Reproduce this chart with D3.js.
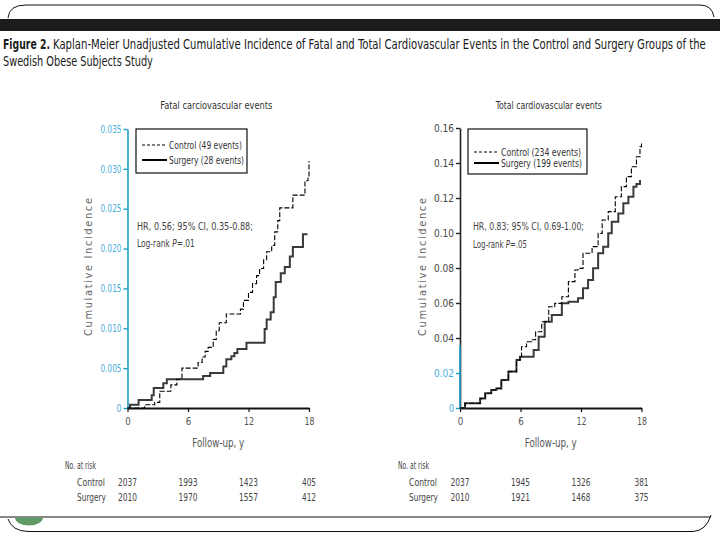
<!DOCTYPE html>
<html><head><meta charset="utf-8">
<script src="https://cdn.jsdelivr.net/npm/d3@7/dist/d3.min.js"></script>
<style>
body{margin:0;background:#fff;}
svg{display:block;}
text{font-family:"Liberation Sans Narrow","DejaVu Sans Condensed","Arial Narrow",sans-serif;}
</style></head>
<body>
<script>
// ---------- data ----------
const xTicks = [0, 6, 12, 18];
const fatalYTicks = [0, 0.005, 0.010, 0.015, 0.020, 0.025, 0.030, 0.035];
const totalYTicks = [0, 0.02, 0.04, 0.06, 0.08, 0.10, 0.12, 0.14, 0.16];
const fatalControl = [[0,0],[1.7,0.0004],[2.7,0.0007],[3.2,0.0021],[4.3,0.0029],[4.9,0.0036],[5.4,0.005],[7.0,0.0057],[7.4,0.0064],[7.7,0.0071],[8.0,0.0076],[8.5,0.0086],[8.8,0.0097],[9.1,0.0107],[9.8,0.0118],[11.2,0.0124],[11.5,0.0135],[12.0,0.0145],[12.4,0.0156],[12.8,0.0166],[13.1,0.0175],[13.5,0.0186],[13.8,0.0196],[14.3,0.0204],[14.6,0.0221],[14.9,0.0235],[15.1,0.0251],[16.4,0.0267],[17.6,0.0285],[17.9,0.029],[18.0,0.031]];
const fatalSurgery = [[0,0],[0.25,0.0004],[1.1,0.001],[2.4,0.0016],[2.6,0.0025],[3.55,0.0031],[3.9,0.0036],[7.5,0.004],[8.2,0.0044],[9.5,0.0052],[9.8,0.0061],[10.3,0.0065],[10.6,0.0069],[10.9,0.0074],[11.8,0.0082],[13.6,0.0099],[13.8,0.0111],[14.2,0.012],[14.5,0.0139],[14.7,0.0158],[15.2,0.0169],[15.6,0.0177],[16.1,0.019],[16.4,0.0202],[17.4,0.0218],[17.85,0.0218]];
const totalControl = [[0,0],[0.5,0.0027],[2.0,0.0055],[2.5,0.0084],[3.1,0.0103],[3.6,0.0112],[4.1,0.016],[4.8,0.0208],[5.6,0.0274],[5.95,0.0293],[6.1,0.035],[6.6,0.0379],[7.1,0.039],[7.5,0.0436],[8.1,0.0493],[8.8,0.0579],[9.4,0.0598],[10.1,0.0636],[10.75,0.0722],[11.4,0.0789],[11.7,0.0798],[12.2,0.0884],[13.1,0.0922],[13.7,0.0998],[14.1,0.1074],[14.7,0.1122],[15.4,0.1207],[16.0,0.1265],[16.5,0.1322],[17.0,0.1379],[17.5,0.1436],[17.85,0.1493],[18.0,0.1522]];
const totalSurgery = [[0,0],[0.5,0.0027],[2.0,0.0055],[2.5,0.0084],[3.1,0.0103],[3.6,0.0112],[4.1,0.016],[4.8,0.0208],[5.6,0.0274],[5.95,0.0293],[6.6,0.0293],[7.3,0.0331],[7.8,0.0407],[8.4,0.0493],[9.1,0.0531],[10.1,0.0598],[10.75,0.0607],[11.7,0.0627],[12.2,0.0684],[12.7,0.0731],[13.2,0.0798],[13.7,0.0884],[14.2,0.0922],[14.7,0.0998],[15.05,0.1065],[15.7,0.1112],[16.2,0.117],[16.7,0.1207],[17.2,0.1265],[17.5,0.128],[17.85,0.1303]];
const fatalAtRiskControl = [2037, 1993, 1423, 405];
const fatalAtRiskSurgery = [2010, 1970, 1557, 412];
const totalAtRiskControl = [2037, 1945, 1326, 381];
const totalAtRiskSurgery = [2010, 1921, 1468, 375];
const titleLine1Bold = "Figure 2.";
const titleLine1 = "Kaplan-Meier Unadjusted Cumulative Incidence of Fatal and Total Cardiovascular Events in the Control and Surgery Groups of the";
const titleLine2 = "Swedish Obese Subjects Study";

const W = 720, H = 540;
const svg = d3.select("body").append("svg").attr("width", W).attr("height", H);

// helper: single-run text squeezed to a given width
function txt(g, s, x, y, size, fill, width, anchor) {
  const t = g.append("text").attr("x", x).attr("y", y).attr("font-size", size).attr("fill", fill)
    .attr("text-anchor", anchor || "start").text(s);
  if (width) t.attr("textLength", width).attr("lengthAdjust", "spacingAndGlyphs");
  return t;
}
// helper: text horizontally scaled (via transform) to a target width
function scaled(g, s, x, y, size, fill, width, bold) {
  const gg = g.append("g").attr("transform", `translate(${x},${y})`);
  const t = gg.append("text").attr("x", 0).attr("y", 0).attr("font-size", size).attr("fill", fill).text(s);
  if (bold) t.attr("font-weight", "bold");
  const w = t.node().getComputedTextLength();
  t.attr("transform", `scale(${width / w},1)`);
  return t;
}

// ---------- frame decorations ----------
svg.append("path").attr("d","M8,18 Q9,5 26,5 L700,5 Q712,5 714,17").attr("fill","none").attr("stroke","#111").attr("stroke-width",1);
svg.append("rect").attr("x",0).attr("y",19).attr("width",W).attr("height",12).attr("fill","#1c1c1c");
scaled(svg, titleLine1Bold, 3, 49, 14, "#1a1a1a", 47, true);
scaled(svg, titleLine1, 53, 49, 14, "#1a1a1a", 653);
scaled(svg, titleLine2, 3, 66, 14, "#1a1a1a", 150);

svg.append("line").attr("x1",0).attr("x2",711).attr("y1",517).attr("y2",517).attr("stroke","#111");
svg.append("path").attr("d","M8,519 Q12,531 28,531.5 L693,531.5 Q706,531 711,515").attr("fill","none").attr("stroke","#111");
svg.append("path").attr("d","M15,517.5 A14,8 0 0 0 43,517.5 Z").attr("fill","#5f9a66");

// ---------- panels ----------
const textGray = "#555";
const blue = "#1b9cc6", blueLab = "#49aedb";
const panels = [
  {title:"Fatal carciovascular events", titleW:112, x0:127.5, x1:309, yTop:129, ymax:0.035, yTicks:fatalYTicks, fmt:v=>v===0?"0":d3.format(".3f")(v),
   control:fatalControl, surgery:fatalSurgery, legC:"Control (49 events)", legS:"Surgery (28 events)", legW:[73,75],
   box:[136,129,111,44], legY:[145,160], hr:"HR, 0.56; 95% CI, 0.35-0.88;", hrW:116, p:".01", lrW:58, annX:137, annY:[230,247],
   ytitleX:92, axisColor:blue, labColor:()=>blueLab, arC:fatalAtRiskControl, arS:fatalAtRiskSurgery, risk:[65,77]},
  {title:"Total cardiovascular events", titleW:106, x0:460, x1:641.5, yTop:128, ymax:0.16, yTicks:totalYTicks, fmt:v=>v===0?"0":d3.format(".2f")(v),
   control:totalControl, surgery:totalSurgery, legC:"Control (234 events)", legS:"Surgery (199 events)", legW:[80,81],
   box:[468,129,119,45], legY:[152,163], hr:"HR, 0.83; 95% CI, 0.69-1.00;", hrW:111, p:".05", lrW:54, annX:473, annY:[230,248],
   ytitleX:426, axisColor:"#222", labColor:v=>v<=0.02?blueLab:"#444", arC:totalAtRiskControl, arS:totalAtRiskSurgery, risk:[398,409]}
];

panels.forEach(p => {
  const g = svg.append("g");
  const x = d3.scaleLinear().domain([0,18]).range([p.x0,p.x1]);
  const y = d3.scaleLinear().domain([0,p.ymax]).range([408,p.yTop]);

  // title
  txt(g, p.title, (p.x0+p.x1)/2 - 2, 109, 10, "#333", p.titleW, "middle");

  // y axis
  const ya = g.append("g").attr("transform",`translate(${p.x0},0)`)
    .call(d3.axisLeft(y).tickValues(p.yTicks).tickFormat(p.fmt).tickSize(4).tickSizeOuter(0));
  ya.attr("font-family", null);
  ya.select(".domain").attr("stroke",p.axisColor).attr("stroke-width",1.6);
  ya.selectAll(".tick line").attr("stroke",p.axisColor).attr("stroke-width",1.4);
  ya.selectAll(".tick text").attr("font-size",10).attr("fill",d=>p.labColor(d)).attr("x",-6)
    .attr("textLength", function(){ const n=this.textContent.length; return n===1?5:(n===4?20:21); })
    .attr("lengthAdjust","spacingAndGlyphs");
  if (p.axisColor !== blue) {
    g.append("line").attr("x1",p.x0).attr("x2",p.x0).attr("y1",y(0)).attr("y2",y(0.036)).attr("stroke",blue).attr("stroke-width",1.6);
    ya.selectAll(".tick").filter(d=>d<=0.02).select("line").attr("stroke",blue);
  }

  // x axis
  const xa = g.append("g").attr("transform","translate(0,408)")
    .call(d3.axisBottom(x).tickValues(xTicks).tickFormat(d3.format("d")).tickSize(4).tickSizeOuter(0));
  xa.attr("font-family", null);
  xa.select(".domain").attr("stroke","#111").attr("stroke-width",2.2);
  xa.selectAll(".tick line").attr("stroke","#111").attr("stroke-width",1.2);
  xa.selectAll(".tick text").attr("font-size",11).attr("fill",textGray).attr("y",9)
    .attr("textLength", function(){ return this.textContent.length===1?5.5:10; })
    .attr("lengthAdjust","spacingAndGlyphs");

  // axis titles
  txt(g, "Follow-up, y", (p.x0+p.x1)/2, 447, 12, textGray, 52, "middle");
  g.append("text").attr("transform",`translate(${p.ytitleX},267) rotate(-90)`).attr("text-anchor","middle").attr("font-size",11)
    .attr("fill","#666").attr("textLength",138).attr("lengthAdjust","spacing").text("Cumulative Incidence");

  // curves
  const line = d3.line().x(d=>x(d[0])).y(d=>y(d[1])).curve(d3.curveStepAfter);
  g.append("path").datum(p.surgery).attr("d",line).attr("fill","none").attr("stroke","#3a3a3a").attr("stroke-width",2);
  g.append("path").datum(p.control).attr("d",line).attr("fill","none").attr("stroke","#000").attr("stroke-width",1.1)
    .attr("stroke-dasharray","5,2");

  // legend
  const [bx,by,bw,bh] = p.box;
  g.append("rect").attr("x",bx).attr("y",by).attr("width",bw).attr("height",bh).attr("fill","#fff").attr("stroke","#111").attr("stroke-width",1.2);
  g.append("line").attr("x1",bx+6).attr("x2",bx+31).attr("y1",p.legY[0]).attr("y2",p.legY[0]).attr("stroke","#000").attr("stroke-width",1).attr("stroke-dasharray","3,2");
  g.append("line").attr("x1",bx+6).attr("x2",bx+31).attr("y1",p.legY[1]).attr("y2",p.legY[1]).attr("stroke","#000").attr("stroke-width",2);
  txt(g, p.legC, bx+33, p.legY[0]+3.5, 10, "#333", p.legW[0]);
  txt(g, p.legS, bx+33, p.legY[1]+3.5, 10, "#333", p.legW[1]);

  // annotation
  txt(g, p.hr, p.annX, p.annY[0], 10, "#444", p.hrW);
  const lg = g.append("g").attr("transform",`translate(${p.annX},${p.annY[1]})`);
  const lr = lg.append("text").attr("x",0).attr("y",0).attr("font-size",10).attr("fill","#444");
  lr.append("tspan").text("Log-rank ");
  lr.append("tspan").attr("font-style","italic").text("P");
  lr.append("tspan").text("=" + p.p);
  const wNat = lr.node().getComputedTextLength();
  lr.attr("transform",`scale(${p.lrW / wNat},1)`);

  // number at risk
  txt(g, "No. at risk", p.risk[0], 469, 10.5, "#444", 31);
  txt(g, "Control", p.risk[1], 486, 10.5, "#444", 28);
  txt(g, "Surgery", p.risk[1], 501, 10.5, "#444", 29);
  [[p.arC,486],[p.arS,501]].forEach(([arr,yy]) => {
    g.append("g").selectAll("text").data(arr).join("text")
      .attr("x",(d,i)=>x(xTicks[i])).attr("y",yy).attr("text-anchor","middle")
      .attr("font-size",10.5).attr("fill","#444")
      .attr("textLength",d=>String(d).length===4?19:14).attr("lengthAdjust","spacingAndGlyphs")
      .text(d=>d);
  });
});
</script>
</body></html>
